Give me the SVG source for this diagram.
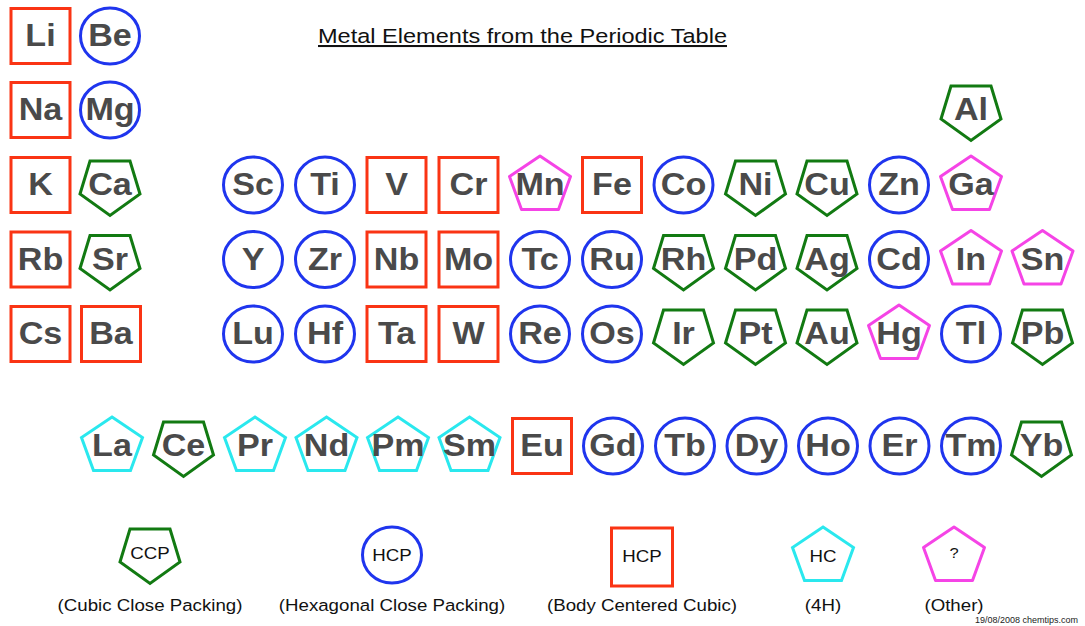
<svg xmlns="http://www.w3.org/2000/svg" xmlns:xlink="http://www.w3.org/1999/xlink" width="1085" height="626" viewBox="0 0 1085 626">
<style>
.t{font-family:"Liberation Sans",Arial,sans-serif;font-weight:bold;font-size:31px;fill:#4a4a4a;text-anchor:middle;transform:scaleX(1.1)}
.l{font-family:"Liberation Sans",Arial,sans-serif;font-size:17px;fill:#111;text-anchor:middle;transform:scaleX(1.1)}
.bcc{fill:#fff;stroke:#fa3414;stroke-width:3}
.hcp{fill:#fff;stroke:#1f35ee;stroke-width:3}
.ccp{fill:#fff;stroke:#127a12;stroke-width:3;stroke-linejoin:miter}
.hc{fill:#fff;stroke:#2ae8ee;stroke-width:3}
.oth{fill:#fff;stroke:#f544e6;stroke-width:3;stroke-linejoin:round}
</style>
<defs>
<rect id="sq" x="-29.5" y="-27.5" width="59" height="55"/>
<ellipse id="el" rx="29.5" ry="28"/>
<polygon id="pd" points="-20,-24 20,-24 30,9 0,30.5 -30,9"/>
<polygon id="pu" points="0,-29 30.5,-8.5 18.5,24.5 -18.5,24.5 -30.5,-8.5"/>
</defs>
<rect width="1085" height="626" fill="#fff"/>
<text x="318" y="43" textLength="409" lengthAdjust="spacingAndGlyphs" style="font-family:'Liberation Sans',Arial,sans-serif;font-size:20.5px;fill:#111;text-decoration:underline">Metal Elements from the Periodic Table</text>
<g id="connectors"/>
<!-- Row 1 -->
<g id="Li" transform="translate(40.5,36)"><use href="#sq" class="bcc"/><text class="t" y="10">Li</text></g>
<g id="Be" transform="translate(110,36)"><use href="#el" class="hcp"/><text class="t" y="10">Be</text></g>
<!-- Row 2 -->
<g id="Na" transform="translate(40.5,110)"><use href="#sq" class="bcc"/><text class="t" y="10">Na</text></g>
<g id="Mg" transform="translate(110,110)"><use href="#el" class="hcp"/><text class="t" y="10">Mg</text></g>
<g id="Al" transform="translate(971,110)"><use href="#pd" class="ccp"/><text class="t" y="10">Al</text></g>
<!-- Row 3 -->
<g id="K" transform="translate(40.5,185)"><use href="#sq" class="bcc"/><text class="t" y="10">K</text></g>
<g id="Ca" transform="translate(110,185)"><use href="#pd" class="ccp"/><text class="t" y="10">Ca</text></g>
<g id="Sc" transform="translate(253,185)"><use href="#el" class="hcp"/><text class="t" y="10">Sc</text></g>
<g id="Ti" transform="translate(325,185)"><use href="#el" class="hcp"/><text class="t" y="10">Ti</text></g>
<g id="V" transform="translate(396.5,185)"><use href="#sq" class="bcc"/><text class="t" y="10">V</text></g>
<g id="Cr" transform="translate(468.5,185)"><use href="#sq" class="bcc"/><text class="t" y="10">Cr</text></g>
<g id="Mn" transform="translate(540,185)"><use href="#pu" class="oth"/><text class="t" y="10">Mn</text></g>
<g id="Fe" transform="translate(612,185)"><use href="#sq" class="bcc"/><text class="t" y="10">Fe</text></g>
<g id="Co" transform="translate(683.5,185)"><use href="#el" class="hcp"/><text class="t" y="10">Co</text></g>
<g id="Ni" transform="translate(755.5,185)"><use href="#pd" class="ccp"/><text class="t" y="10">Ni</text></g>
<g id="Cu" transform="translate(827,185)"><use href="#pd" class="ccp"/><text class="t" y="10">Cu</text></g>
<g id="Zn" transform="translate(899,185)"><use href="#el" class="hcp"/><text class="t" y="10">Zn</text></g>
<g id="Ga" transform="translate(971,185)"><use href="#pu" class="oth"/><text class="t" y="10">Ga</text></g>
<!-- Row 4 -->
<g id="Rb" transform="translate(40.5,259.5)"><use href="#sq" class="bcc"/><text class="t" y="10">Rb</text></g>
<g id="Sr" transform="translate(110,259.5)"><use href="#pd" class="ccp"/><text class="t" y="10">Sr</text></g>
<g id="Y" transform="translate(253,259.5)"><use href="#el" class="hcp"/><text class="t" y="10">Y</text></g>
<g id="Zr" transform="translate(325,259.5)"><use href="#el" class="hcp"/><text class="t" y="10">Zr</text></g>
<g id="Nb" transform="translate(396.5,259.5)"><use href="#sq" class="bcc"/><text class="t" y="10">Nb</text></g>
<g id="Mo" transform="translate(468.5,259.5)"><use href="#sq" class="bcc"/><text class="t" y="10">Mo</text></g>
<g id="Tc" transform="translate(540,259.5)"><use href="#el" class="hcp"/><text class="t" y="10">Tc</text></g>
<g id="Ru" transform="translate(612,259.5)"><use href="#el" class="hcp"/><text class="t" y="10">Ru</text></g>
<g id="Rh" transform="translate(683.5,259.5)"><use href="#pd" class="ccp"/><text class="t" y="10">Rh</text></g>
<g id="Pd" transform="translate(755.5,259.5)"><use href="#pd" class="ccp"/><text class="t" y="10">Pd</text></g>
<g id="Ag" transform="translate(827,259.5)"><use href="#pd" class="ccp"/><text class="t" y="10">Ag</text></g>
<g id="Cd" transform="translate(899,259.5)"><use href="#el" class="hcp"/><text class="t" y="10">Cd</text></g>
<g id="In" transform="translate(971,259.5)"><use href="#pu" class="oth"/><text class="t" y="10">In</text></g>
<g id="Sn" transform="translate(1042.5,259.5)"><use href="#pu" class="oth"/><text class="t" y="10">Sn</text></g>
<!-- Row 5 -->
<g id="Cs" transform="translate(40.5,334)"><use href="#sq" class="bcc"/><text class="t" y="10">Cs</text></g>
<g id="Ba" transform="translate(111,334)"><use href="#sq" class="bcc"/><text class="t" y="10">Ba</text></g>
<g id="Lu" transform="translate(253,334)"><use href="#el" class="hcp"/><text class="t" y="10">Lu</text></g>
<g id="Hf" transform="translate(325,334)"><use href="#el" class="hcp"/><text class="t" y="10">Hf</text></g>
<g id="Ta" transform="translate(396.5,334)"><use href="#sq" class="bcc"/><text class="t" y="10">Ta</text></g>
<g id="W" transform="translate(468.5,334)"><use href="#sq" class="bcc"/><text class="t" y="10">W</text></g>
<g id="Re" transform="translate(540,334)"><use href="#el" class="hcp"/><text class="t" y="10">Re</text></g>
<g id="Os" transform="translate(612,334)"><use href="#el" class="hcp"/><text class="t" y="10">Os</text></g>
<g id="Ir" transform="translate(683.5,334)"><use href="#pd" class="ccp"/><text class="t" y="10">Ir</text></g>
<g id="Pt" transform="translate(755.5,334)"><use href="#pd" class="ccp"/><text class="t" y="10">Pt</text></g>
<g id="Au" transform="translate(827,334)"><use href="#pd" class="ccp"/><text class="t" y="10">Au</text></g>
<g id="Hg" transform="translate(899,334)"><use href="#pu" class="oth"/><text class="t" y="10">Hg</text></g>
<g id="Tl" transform="translate(971,334)"><use href="#el" class="hcp"/><text class="t" y="10">Tl</text></g>
<g id="Pb" transform="translate(1042.5,334)"><use href="#pd" class="ccp"/><text class="t" y="10">Pb</text></g>
<!-- Lanthanides -->
<g id="La" transform="translate(112,446)"><use href="#pu" class="hc"/><text class="t" y="10">La</text></g>
<g id="Ce" transform="translate(183.5,446)"><use href="#pd" class="ccp"/><text class="t" y="10">Ce</text></g>
<g id="Pr" transform="translate(255,446)"><use href="#pu" class="hc"/><text class="t" y="10">Pr</text></g>
<g id="Nd" transform="translate(326.5,446)"><use href="#pu" class="hc"/><text class="t" y="10">Nd</text></g>
<g id="Pm" transform="translate(398,446)"><use href="#pu" class="hc"/><text class="t" y="10">Pm</text></g>
<g id="Sm" transform="translate(469.5,446)"><use href="#pu" class="hc"/><text class="t" y="10">Sm</text></g>
<g id="Eu" transform="translate(542,446)"><use href="#sq" class="bcc"/><text class="t" y="10">Eu</text></g>
<g id="Gd" transform="translate(613,446)"><use href="#el" class="hcp"/><text class="t" y="10">Gd</text></g>
<g id="Tb" transform="translate(685,446)"><use href="#el" class="hcp"/><text class="t" y="10">Tb</text></g>
<g id="Dy" transform="translate(756.5,446)"><use href="#el" class="hcp"/><text class="t" y="10">Dy</text></g>
<g id="Ho" transform="translate(828,446)"><use href="#el" class="hcp"/><text class="t" y="10">Ho</text></g>
<g id="Er" transform="translate(899.5,446)"><use href="#el" class="hcp"/><text class="t" y="10">Er</text></g>
<g id="Tm" transform="translate(971,446)"><use href="#el" class="hcp"/><text class="t" y="10">Tm</text></g>
<g id="Yb" transform="translate(1041.5,446)"><use href="#pd" class="ccp"/><text class="t" y="10">Yb</text></g>
<!-- Legend -->
<g id="leg-ccp" transform="translate(150,553)"><use href="#pd" class="ccp"/><text class="l" y="6">CCP</text><text class="l" y="58">(Cubic Close Packing)</text></g>
<g id="leg-hcp" transform="translate(392,555)"><use href="#el" class="hcp"/><text class="l" y="6">HCP</text><text class="l" y="56">(Hexagonal Close Packing)</text></g>
<g id="leg-bcc" transform="translate(642,557)"><rect x="-30.5" y="-29" width="61" height="58" class="bcc"/><text class="l" y="5">HCP</text><text class="l" y="54">(Body Centered Cubic)</text></g>
<g id="leg-hc" transform="translate(823,556)"><use href="#pu" class="hc"/><text class="l" y="6">HC</text><text class="l" y="55">(4H)</text></g>
<g id="leg-oth" transform="translate(954,556)"><use href="#pu" class="oth"/><text class="l" y="2" style="font-size:15px">?</text><text class="l" y="55">(Other)</text></g>
<text x="1078" y="623" style="font-family:'Liberation Sans',Arial,sans-serif;font-size:9px;fill:#222;text-anchor:end">19/08/2008 chemtips.com</text>
</svg>
